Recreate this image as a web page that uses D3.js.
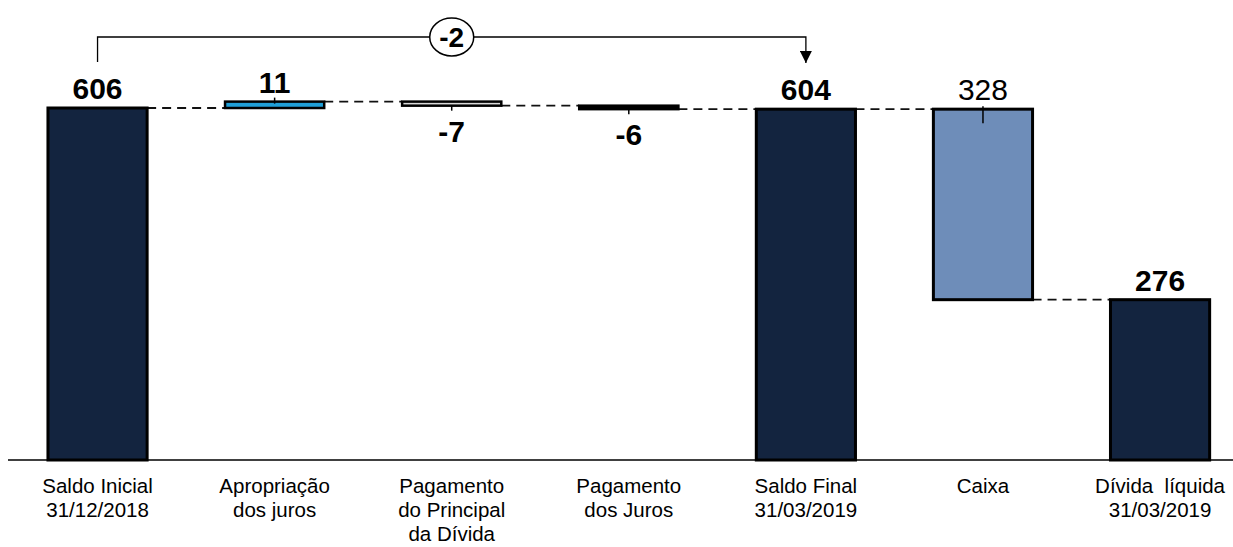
<!DOCTYPE html>
<html>
<head>
<meta charset="utf-8">
<script src="https://cdn.jsdelivr.net/npm/d3@7"></script>
<style>
  body { margin: 0; background: #fff; }
  text { font-family: "Liberation Sans", Arial, sans-serif; }
</style>
</head>
<body>
<script>
// Données du graphique en cascade
var categories = [
  ["Saldo Inicial", "31/12/2018"],
  ["Apropriação", "dos juros"],
  ["Pagamento", "do Principal", "da Dívida"],
  ["Pagamento", "dos Juros"],
  ["Saldo Final", "31/03/2019"],
  ["Caixa"],
  ["Dívida  líquida", "31/03/2019"]
];
var values = [606, 11, -7, -6, 604, -328, 276];
var kinds = ["total", "delta", "delta", "delta", "total", "delta", "total"];
var valueLabels = ["606", "11", "-7", "-6", "604", "328", "276"];
var variation = "-2";

(function(d3) {
  "use strict";

  var width = 1233, height = 547;
  var baseY = 460;

  var fills = ["#13243f", "#1f9fd8", "#d9d9d9", "#000000", "#13243f", "#6e8db9", "#13243f"];
  var strokeW = [3, 2.5, 2.5, 2.5, 3, 3, 3];

  var svg = d3.select("body").append("svg")
    .attr("width", width)
    .attr("height", height);

  var x = d3.scaleBand()
    .domain(d3.range(categories.length))
    .range([9, 1248.6])
    .paddingInner(0.44)
    .paddingOuter(0.22);

  var y = d3.scaleLinear()
    .domain([0, 606])
    .range([baseY, 108]);

  // Calcul des segments (début / fin) de chaque barre
  var bars = [];
  var running = 0;
  values.forEach(function(v, i) {
    var start, end;
    if (kinds[i] === "total") {
      start = 0; end = v; running = v;
    } else {
      start = running; end = running + v; running = end;
    }
    bars.push({ i: i, start: start, end: end, v: v });
  });

  // Lignes pointillées entre les barres
  var links = [];
  for (var k = 0; k < bars.length - 1; k++) {
    links.push({ x1: x(k) + x.bandwidth(), x2: x(k + 1), val: bars[k].end });
  }
  svg.append("g").selectAll("line")
    .data(links)
    .enter().append("line")
    .attr("x1", function(d) { return d.x1; })
    .attr("x2", function(d) { return d.x2; })
    .attr("y1", function(d) { return y(d.val); })
    .attr("y2", function(d) { return y(d.val); })
    .attr("stroke", "#111")
    .attr("stroke-width", 1.8)
    .attr("stroke-dasharray", "9,6");

  // Barres
  svg.append("g").selectAll("rect")
    .data(bars)
    .enter().append("rect")
    .attr("x", function(d) { return x(d.i); })
    .attr("width", x.bandwidth())
    .attr("y", function(d) { return y(Math.max(d.start, d.end)); })
    .attr("height", function(d) { return Math.max(1, Math.abs(y(d.start) - y(d.end))); })
    .attr("fill", function(d) { return fills[d.i]; })
    .attr("stroke", "#000")
    .attr("stroke-width", function(d) { return strokeW[d.i]; });

  // Petits traits au centre des variations
  var deltas = bars.filter(function(d) { return kinds[d.i] === "delta"; });
  svg.append("g").selectAll("line")
    .data(deltas)
    .enter().append("line")
    .attr("x1", function(d) { return x(d.i) + x.bandwidth() / 2; })
    .attr("x2", function(d) { return x(d.i) + x.bandwidth() / 2; })
    .attr("y1", function(d) {
      if (d.v > 0) return y(d.end) - 4;
      if (d.v < -100) return y(d.start) - 3;
      return y(d.end);
    })
    .attr("y2", function(d) {
      if (d.v > 0) return y(d.end) + 2;
      if (d.v < -100) return y(d.start) + 14;
      return y(d.end) + 5;
    })
    .attr("stroke", "#000")
    .attr("stroke-width", 1.5);

  // Étiquettes de valeur
  svg.append("g").selectAll("text")
    .data(bars)
    .enter().append("text")
    .attr("x", function(d) { return x(d.i) + x.bandwidth() / 2; })
    .attr("y", function(d) {
      if (kinds[d.i] === "delta" && d.v < 0 && d.v > -100) return y(d.end) + 36;
      return y(Math.max(d.start, d.end)) - 9;
    })
    .attr("text-anchor", "middle")
    .attr("font-size", 30)
    .attr("font-weight", function(d) { return d.v < -100 ? "normal" : "bold"; })
    .attr("fill", "#000")
    .text(function(d) { return valueLabels[d.i]; });

  // Axe horizontal
  svg.append("line")
    .attr("x1", 8).attr("x2", width)
    .attr("y1", baseY).attr("y2", baseY)
    .attr("stroke", "#000")
    .attr("stroke-width", 1.5);

  // Libellés des catégories
  var cat = svg.append("g").selectAll("text")
    .data(categories)
    .enter().append("text")
    .attr("text-anchor", "middle")
    .attr("font-size", 20.5)
    .attr("fill", "#000")
    .style("white-space", "pre");
  cat.selectAll("tspan")
    .data(function(d, i) { return d.map(function(s) { return { s: s, i: i }; }); })
    .enter().append("tspan")
    .attr("x", function(d) { return x(d.i) + x.bandwidth() / 2; })
    .attr("y", function(d, j) { return 493 + j * 24; })
    .text(function(d) { return d.s; });

  // Accolade de variation entre Saldo Inicial et Saldo Final
  var bx1 = x(0) + x.bandwidth() / 2;
  var bx2 = x(4) + x.bandwidth() / 2;
  var by = 37;
  svg.append("defs").append("marker")
    .attr("id", "arrow")
    .attr("viewBox", "0 0 12 12")
    .attr("refX", 12).attr("refY", 6)
    .attr("markerWidth", 12).attr("markerHeight", 12)
    .attr("markerUnits", "userSpaceOnUse")
    .attr("orient", "auto")
    .append("path")
    .attr("d", "M0,0L12,6L0,12Z")
    .attr("fill", "#000");

  svg.append("path")
    .attr("d", "M" + bx1 + "," + 62 + "V" + by + "H" + bx2 + "V" + 63)
    .attr("fill", "none")
    .attr("stroke", "#000")
    .attr("stroke-width", 1.3)
    .attr("marker-end", "url(#arrow)");

  var cx = (bx1 + bx2) / 2;
  svg.append("ellipse")
    .attr("cx", cx).attr("cy", by)
    .attr("rx", 22).attr("ry", 19)
    .attr("fill", "#fff")
    .attr("stroke", "#000")
    .attr("stroke-width", 1.5);
  svg.append("text")
    .attr("x", cx).attr("y", by + 10)
    .attr("text-anchor", "middle")
    .attr("font-size", 28)
    .attr("font-weight", "bold")
    .text(variation);
})(d3);
</script>
</body>
</html>
